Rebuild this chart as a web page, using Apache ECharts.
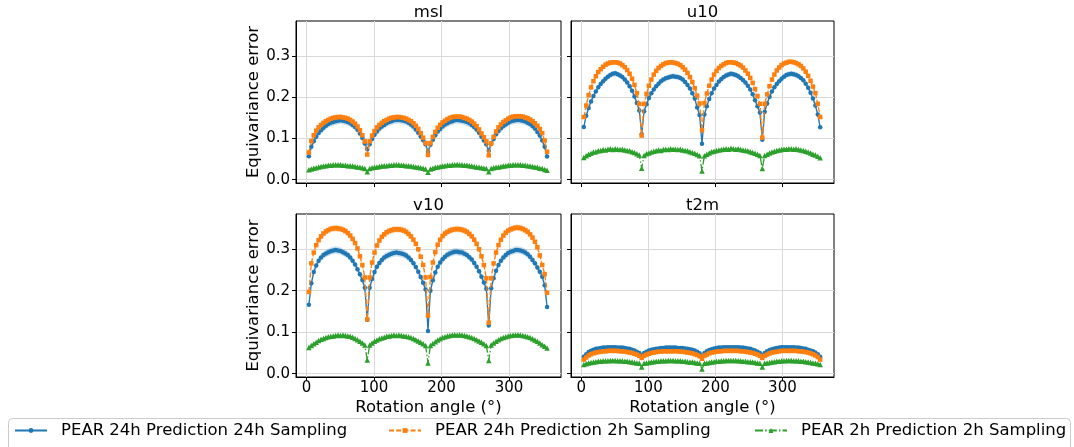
<!DOCTYPE html>
<html>
<head>
<meta charset="utf-8">
<script src="https://cdn.jsdelivr.net/npm/echarts@6/dist/echarts.min.js"></script>
<style>
  html, body { margin: 0; padding: 0; background: #ffffff; }
  #chart { width: 1074px; height: 447px; }
</style>
</head>
<body>
<div id="chart"></div>
<script>
// Rotation angles (degrees) at which the equivariance error was evaluated
const angles = [
  3.6, 7.2, 10.8, 14.4, 18, 21.6, 25.2, 28.8, 32.4, 36, 39.6, 43.2, 46.8, 50.4, 54, 57.6, 61.2, 64.8, 68.4, 72, 75.6, 79.2, 82.8, 86.4, 90,
  93.6, 97.2, 100.8, 104.4, 108, 111.6, 115.2, 118.8, 122.4, 126, 129.6, 133.2, 136.8, 140.4, 144, 147.6, 151.2, 154.8, 158.4, 162, 165.6, 169.2, 172.8, 176.4, 180,
  183.6, 187.2, 190.8, 194.4, 198, 201.6, 205.2, 208.8, 212.4, 216, 219.6, 223.2, 226.8, 230.4, 234, 237.6, 241.2, 244.8, 248.4, 252, 255.6, 259.2, 262.8, 266.4, 270,
  273.6, 277.2, 280.8, 284.4, 288, 291.6, 295.2, 298.8, 302.4, 306, 309.6, 313.2, 316.8, 320.4, 324, 327.6, 331.2, 334.8, 338.4, 342, 345.6, 349.2, 352.8, 356.4
];

const seriesNames = [
  'PEAR 24h Prediction 24h Sampling',
  'PEAR 24h Prediction 2h Sampling',
  'PEAR 2h Prediction 2h Sampling'
];
const panelTitles = ['msl', 'u10', 'v10', 't2m'];
const xTicks = [0, 100, 200, 300];
const yTicks = [0, 0.1, 0.2, 0.3];

// ---- msl ----
const mslP24S24 = [
  0.057, 0.080, 0.093, 0.104, 0.113, 0.120, 0.126, 0.131, 0.135, 0.138, 0.140, 0.142, 0.143, 0.144, 0.143, 0.142, 0.140, 0.137, 0.133, 0.128, 0.121, 0.112, 0.101, 0.088, 0.074,
  0.086, 0.099, 0.109, 0.117, 0.124, 0.129, 0.133, 0.137, 0.140, 0.142, 0.144, 0.145, 0.145, 0.144, 0.143, 0.141, 0.138, 0.134, 0.129, 0.122, 0.114, 0.105, 0.096, 0.086, 0.068,
  0.085, 0.097, 0.108, 0.117, 0.123, 0.129, 0.134, 0.137, 0.140, 0.142, 0.144, 0.145, 0.144, 0.143, 0.142, 0.140, 0.137, 0.133, 0.128, 0.122, 0.114, 0.104, 0.095, 0.086, 0.070,
  0.087, 0.099, 0.110, 0.118, 0.125, 0.130, 0.134, 0.138, 0.141, 0.143, 0.144, 0.145, 0.144, 0.143, 0.141, 0.138, 0.135, 0.130, 0.124, 0.116, 0.107, 0.095, 0.080, 0.056
];
const mslP24S2 = [
  0.066, 0.094, 0.108, 0.119, 0.127, 0.133, 0.138, 0.142, 0.145, 0.148, 0.150, 0.151, 0.152, 0.152, 0.151, 0.150, 0.148, 0.145, 0.141, 0.136, 0.129, 0.120, 0.108, 0.093, 0.061,
  0.093, 0.107, 0.118, 0.127, 0.133, 0.138, 0.142, 0.145, 0.148, 0.150, 0.151, 0.152, 0.152, 0.151, 0.150, 0.148, 0.145, 0.142, 0.137, 0.131, 0.123, 0.113, 0.102, 0.089, 0.060,
  0.089, 0.104, 0.116, 0.126, 0.133, 0.139, 0.143, 0.147, 0.150, 0.152, 0.153, 0.153, 0.153, 0.152, 0.150, 0.148, 0.145, 0.141, 0.136, 0.130, 0.122, 0.112, 0.103, 0.093, 0.059,
  0.088, 0.104, 0.117, 0.127, 0.134, 0.140, 0.144, 0.148, 0.151, 0.153, 0.154, 0.154, 0.154, 0.153, 0.151, 0.149, 0.146, 0.142, 0.137, 0.131, 0.123, 0.113, 0.095, 0.068
];
const mslP2S2 = [
  0.024, 0.026, 0.028, 0.029, 0.031, 0.032, 0.033, 0.034, 0.035, 0.035, 0.036, 0.036, 0.036, 0.036, 0.035, 0.035, 0.034, 0.034, 0.033, 0.032, 0.031, 0.030, 0.029, 0.027, 0.019,
  0.027, 0.029, 0.030, 0.031, 0.032, 0.033, 0.034, 0.034, 0.035, 0.035, 0.036, 0.036, 0.036, 0.035, 0.035, 0.034, 0.034, 0.033, 0.032, 0.031, 0.030, 0.029, 0.028, 0.026, 0.018,
  0.026, 0.028, 0.030, 0.031, 0.032, 0.033, 0.034, 0.035, 0.035, 0.036, 0.036, 0.037, 0.036, 0.036, 0.035, 0.035, 0.034, 0.033, 0.032, 0.031, 0.030, 0.029, 0.028, 0.027, 0.019,
  0.027, 0.029, 0.030, 0.031, 0.032, 0.033, 0.034, 0.035, 0.035, 0.036, 0.036, 0.036, 0.036, 0.035, 0.035, 0.034, 0.033, 0.032, 0.031, 0.030, 0.028, 0.027, 0.025, 0.023
];
const mslSpread = [0.009, 0.006];

// ---- u10 ----
const u10P24S24 = [
  0.128, 0.155, 0.174, 0.190, 0.203, 0.214, 0.224, 0.232, 0.239, 0.245, 0.250, 0.254, 0.257, 0.258, 0.256, 0.253, 0.249, 0.243, 0.236, 0.227, 0.216, 0.202, 0.186, 0.168, 0.110,
  0.166, 0.183, 0.198, 0.210, 0.219, 0.227, 0.233, 0.239, 0.243, 0.246, 0.248, 0.250, 0.251, 0.250, 0.249, 0.247, 0.243, 0.237, 0.230, 0.221, 0.210, 0.197, 0.175, 0.157, 0.087,
  0.158, 0.178, 0.196, 0.210, 0.221, 0.230, 0.238, 0.244, 0.249, 0.253, 0.255, 0.257, 0.256, 0.254, 0.251, 0.247, 0.242, 0.236, 0.228, 0.219, 0.207, 0.193, 0.178, 0.163, 0.097,
  0.165, 0.185, 0.201, 0.214, 0.224, 0.232, 0.239, 0.245, 0.250, 0.254, 0.256, 0.257, 0.256, 0.254, 0.251, 0.247, 0.241, 0.233, 0.223, 0.211, 0.197, 0.180, 0.158, 0.127
];
const u10P24S2 = [
  0.152, 0.180, 0.205, 0.224, 0.239, 0.251, 0.261, 0.268, 0.274, 0.279, 0.282, 0.284, 0.285, 0.285, 0.284, 0.282, 0.278, 0.273, 0.266, 0.257, 0.245, 0.230, 0.210, 0.184, 0.107,
  0.184, 0.208, 0.228, 0.243, 0.255, 0.264, 0.271, 0.276, 0.280, 0.283, 0.284, 0.285, 0.284, 0.283, 0.281, 0.278, 0.273, 0.267, 0.259, 0.249, 0.237, 0.222, 0.204, 0.185, 0.120,
  0.186, 0.209, 0.228, 0.243, 0.255, 0.264, 0.271, 0.276, 0.280, 0.283, 0.285, 0.285, 0.284, 0.283, 0.280, 0.277, 0.272, 0.265, 0.257, 0.247, 0.235, 0.220, 0.203, 0.184, 0.102,
  0.184, 0.207, 0.227, 0.243, 0.255, 0.265, 0.272, 0.278, 0.282, 0.284, 0.286, 0.286, 0.285, 0.283, 0.280, 0.276, 0.270, 0.262, 0.252, 0.240, 0.226, 0.210, 0.184, 0.152
];
const u10P2S2 = [
  0.054, 0.058, 0.062, 0.064, 0.067, 0.068, 0.070, 0.071, 0.073, 0.072, 0.074, 0.075, 0.073, 0.075, 0.074, 0.073, 0.074, 0.072, 0.071, 0.070, 0.068, 0.066, 0.063, 0.060, 0.028,
  0.059, 0.063, 0.065, 0.067, 0.069, 0.070, 0.072, 0.071, 0.073, 0.074, 0.073, 0.075, 0.074, 0.074, 0.073, 0.074, 0.072, 0.071, 0.070, 0.068, 0.066, 0.064, 0.061, 0.058, 0.021,
  0.058, 0.062, 0.065, 0.068, 0.069, 0.071, 0.072, 0.073, 0.074, 0.075, 0.074, 0.076, 0.075, 0.074, 0.075, 0.073, 0.072, 0.071, 0.070, 0.068, 0.066, 0.064, 0.062, 0.059, 0.027,
  0.059, 0.062, 0.065, 0.067, 0.069, 0.071, 0.072, 0.073, 0.074, 0.074, 0.075, 0.075, 0.074, 0.075, 0.073, 0.072, 0.071, 0.069, 0.067, 0.065, 0.062, 0.060, 0.057, 0.053
];
const u10Spread = [0.007, 0.006];

// ---- v10 ----
const v10P24S24 = [
  0.166, 0.218, 0.245, 0.261, 0.272, 0.280, 0.286, 0.290, 0.293, 0.295, 0.297, 0.298, 0.297, 0.296, 0.293, 0.290, 0.286, 0.280, 0.272, 0.263, 0.252, 0.240, 0.226, 0.207, 0.130,
  0.207, 0.228, 0.245, 0.258, 0.267, 0.274, 0.280, 0.284, 0.287, 0.289, 0.291, 0.292, 0.291, 0.290, 0.288, 0.285, 0.280, 0.274, 0.266, 0.257, 0.246, 0.233, 0.219, 0.203, 0.103,
  0.200, 0.225, 0.244, 0.258, 0.268, 0.276, 0.282, 0.287, 0.290, 0.292, 0.294, 0.294, 0.293, 0.292, 0.289, 0.286, 0.281, 0.275, 0.267, 0.258, 0.247, 0.234, 0.220, 0.205, 0.116,
  0.206, 0.230, 0.248, 0.262, 0.272, 0.280, 0.286, 0.291, 0.294, 0.296, 0.298, 0.298, 0.297, 0.295, 0.292, 0.288, 0.282, 0.274, 0.266, 0.256, 0.246, 0.234, 0.213, 0.161
];
const v10P24S2 = [
  0.197, 0.266, 0.292, 0.310, 0.322, 0.331, 0.338, 0.343, 0.346, 0.349, 0.350, 0.351, 0.350, 0.349, 0.347, 0.344, 0.339, 0.333, 0.325, 0.315, 0.302, 0.283, 0.262, 0.232, 0.131,
  0.232, 0.268, 0.292, 0.309, 0.321, 0.330, 0.336, 0.341, 0.344, 0.346, 0.348, 0.348, 0.348, 0.347, 0.345, 0.342, 0.337, 0.331, 0.323, 0.313, 0.300, 0.282, 0.262, 0.232, 0.140,
  0.233, 0.268, 0.293, 0.311, 0.323, 0.332, 0.338, 0.342, 0.345, 0.347, 0.348, 0.349, 0.348, 0.347, 0.345, 0.342, 0.337, 0.331, 0.323, 0.313, 0.300, 0.283, 0.262, 0.230, 0.123,
  0.230, 0.266, 0.292, 0.310, 0.323, 0.333, 0.340, 0.345, 0.348, 0.350, 0.352, 0.352, 0.351, 0.349, 0.346, 0.342, 0.336, 0.328, 0.318, 0.305, 0.285, 0.262, 0.240, 0.195
];
const v10P2S2 = [
  0.063, 0.068, 0.072, 0.076, 0.080, 0.083, 0.085, 0.087, 0.089, 0.090, 0.091, 0.092, 0.093, 0.092, 0.093, 0.092, 0.091, 0.090, 0.088, 0.085, 0.082, 0.078, 0.074, 0.069, 0.033,
  0.069, 0.074, 0.078, 0.081, 0.084, 0.086, 0.088, 0.090, 0.091, 0.092, 0.093, 0.092, 0.093, 0.092, 0.091, 0.090, 0.089, 0.087, 0.085, 0.082, 0.079, 0.076, 0.072, 0.068, 0.026,
  0.068, 0.073, 0.077, 0.081, 0.084, 0.087, 0.089, 0.091, 0.092, 0.093, 0.094, 0.093, 0.094, 0.093, 0.092, 0.091, 0.089, 0.087, 0.085, 0.082, 0.079, 0.076, 0.072, 0.068, 0.032,
  0.069, 0.074, 0.078, 0.082, 0.085, 0.087, 0.089, 0.091, 0.092, 0.093, 0.093, 0.094, 0.093, 0.092, 0.091, 0.089, 0.087, 0.084, 0.081, 0.078, 0.074, 0.070, 0.066, 0.062
];
const v10Spread = [0.009, 0.008];

// ---- t2m ----
const t2mP24S24 = [
  0.041, 0.047, 0.052, 0.055, 0.058, 0.060, 0.061, 0.062, 0.063, 0.063, 0.064, 0.064, 0.064, 0.064, 0.063, 0.063, 0.063, 0.062, 0.061, 0.060, 0.058, 0.056, 0.053, 0.050, 0.045,
  0.050, 0.053, 0.056, 0.058, 0.059, 0.060, 0.061, 0.062, 0.062, 0.063, 0.063, 0.063, 0.063, 0.063, 0.062, 0.062, 0.062, 0.061, 0.060, 0.059, 0.058, 0.056, 0.053, 0.049, 0.042,
  0.050, 0.054, 0.057, 0.059, 0.061, 0.062, 0.063, 0.063, 0.064, 0.064, 0.064, 0.064, 0.064, 0.064, 0.064, 0.063, 0.063, 0.062, 0.061, 0.060, 0.058, 0.056, 0.053, 0.050, 0.045,
  0.050, 0.054, 0.057, 0.059, 0.061, 0.062, 0.063, 0.064, 0.064, 0.064, 0.064, 0.064, 0.064, 0.063, 0.063, 0.062, 0.061, 0.060, 0.058, 0.056, 0.054, 0.051, 0.047, 0.041
];
const t2mP24S2 = [
  0.034, 0.039, 0.044, 0.047, 0.049, 0.051, 0.052, 0.053, 0.054, 0.054, 0.055, 0.055, 0.055, 0.055, 0.055, 0.054, 0.054, 0.053, 0.052, 0.051, 0.050, 0.048, 0.046, 0.043, 0.038,
  0.043, 0.046, 0.048, 0.050, 0.051, 0.052, 0.053, 0.053, 0.054, 0.054, 0.054, 0.054, 0.054, 0.054, 0.054, 0.053, 0.053, 0.052, 0.051, 0.050, 0.049, 0.047, 0.045, 0.042, 0.036,
  0.043, 0.046, 0.049, 0.051, 0.052, 0.053, 0.054, 0.054, 0.055, 0.055, 0.055, 0.055, 0.055, 0.055, 0.055, 0.054, 0.054, 0.053, 0.052, 0.051, 0.050, 0.048, 0.046, 0.043, 0.038,
  0.043, 0.046, 0.049, 0.051, 0.052, 0.053, 0.054, 0.055, 0.055, 0.055, 0.055, 0.055, 0.055, 0.055, 0.054, 0.054, 0.053, 0.052, 0.051, 0.049, 0.047, 0.044, 0.040, 0.034
];
const t2mP2S2 = [
  0.022, 0.024, 0.026, 0.027, 0.028, 0.029, 0.030, 0.030, 0.031, 0.031, 0.031, 0.032, 0.032, 0.032, 0.031, 0.031, 0.031, 0.030, 0.030, 0.029, 0.028, 0.027, 0.026, 0.025, 0.016,
  0.025, 0.026, 0.027, 0.028, 0.029, 0.030, 0.030, 0.031, 0.031, 0.031, 0.032, 0.032, 0.032, 0.031, 0.031, 0.031, 0.030, 0.030, 0.029, 0.028, 0.028, 0.027, 0.026, 0.025, 0.011,
  0.025, 0.026, 0.027, 0.028, 0.029, 0.030, 0.030, 0.031, 0.031, 0.032, 0.032, 0.032, 0.032, 0.032, 0.031, 0.031, 0.030, 0.030, 0.029, 0.029, 0.028, 0.027, 0.026, 0.025, 0.016,
  0.025, 0.026, 0.027, 0.028, 0.029, 0.030, 0.030, 0.031, 0.031, 0.032, 0.032, 0.032, 0.031, 0.031, 0.031, 0.030, 0.030, 0.029, 0.028, 0.027, 0.026, 0.025, 0.024, 0.022
];
const t2mSpread = [0.003, 0.003];

const panelValues = [
  [mslP24S24, mslP24S2, mslP2S2],
  [u10P24S24, u10P24S2, u10P2S2],
  [v10P24S24, v10P24S2, v10P2S2],
  [t2mP24S24, t2mP24S2, t2mP2S2]
];
const panelSpreads = [mslSpread, u10Spread, v10Spread, t2mSpread];

// ---- styling ----
const FONT = '"DejaVu Sans", sans-serif';
const colors = ['#1f77b4', '#ff7f0e', '#2ca02c'];
const bandColors = ['rgba(31,119,180,0.22)', 'rgba(255,127,14,0.22)'];
const symbols = ['circle', 'rect', 'triangle'];
const symbolSizes = [4.5, 4.5, 5.5];
const dashes = ['solid', [5, 2.2], [8, 2.2, 1.4, 2.2]];

const grids = [
  { left: 296, top: 21, width: 265, height: 162 },
  { left: 571, top: 21, width: 263, height: 162 },
  { left: 296, top: 214, width: 265, height: 163 },
  { left: 571, top: 214, width: 263, height: 163 }
];

const gridLineStyle = { color: '#d9d9d9', width: 1 };

const xAxes = grids.map((g, i) => ({
  type: 'value', gridIndex: i, min: -15.5, max: 377,
  axisLine: { show: true, onZero: false, lineStyle: { color: '#000', width: 1 } },
  axisTick: { show: true, inside: false, length: 4, customValues: xTicks, lineStyle: { color: '#000', width: 1 } },
  axisLabel: { show: i >= 2, customValues: xTicks, margin: 4, fontSize: 15, fontFamily: FONT, color: '#000' },
  splitLine: { show: true, lineStyle: gridLineStyle },
  name: i >= 2 ? 'Rotation angle (°)' : '',
  nameLocation: 'middle', nameGap: 22,
  nameTextStyle: { fontSize: 16.5, fontFamily: FONT, color: '#000', verticalAlign: 'top' }
}));

const yAxes = grids.map((g, i) => ({
  type: 'value', gridIndex: i, min: -0.008, max: 0.385,
  axisLine: { show: true, onZero: false, lineStyle: { color: '#000', width: 1 } },
  axisTick: { show: true, inside: false, length: 4, customValues: yTicks, lineStyle: { color: '#000', width: 1 } },
  axisLabel: {
    show: i % 2 === 0, customValues: yTicks, margin: 6, fontSize: 15, fontFamily: FONT, color: '#000',
    formatter: v => v.toFixed(1)
  },
  splitLine: { show: true, lineStyle: gridLineStyle },
  name: i % 2 === 0 ? 'Equivariance error' : '',
  nameLocation: 'middle', nameGap: 31, nameRotate: 90,
  nameTextStyle: { fontSize: 16.5, fontFamily: FONT, color: '#000' }
}));

// Spread band drawn as one closed polygon through the axis scales
function bandRenderer(lower, upper, fill) {
  return function (params, api) {
    if (params.dataIndex !== 0) return null;
    const pts = [];
    for (let k = 0; k < angles.length; k++) pts.push(api.coord([angles[k], upper[k]]));
    for (let k = angles.length - 1; k >= 0; k--) pts.push(api.coord([angles[k], lower[k]]));
    return {
      type: 'polygon',
      shape: { points: pts },
      style: { fill: fill, stroke: null },
      silent: true
    };
  };
}

const series = [];
panelValues.forEach((vals, gi) => {
  panelSpreads[gi].forEach((s, si) => {
    const ys = vals[si];
    const lower = ys.map(v => v - s);
    const upper = ys.map(v => v + s);
    series.push({
      type: 'custom', xAxisIndex: gi, yAxisIndex: gi, silent: true, z: 1,
      data: angles.map((a, k) => [a, lower[k], upper[k]]),
      encode: { x: 0, y: [1, 2] },
      renderItem: bandRenderer(lower, upper, bandColors[si]),
      clip: true
    });
  });
  vals.forEach((ys, si) => {
    series.push({
      type: 'line', name: seriesNames[si], xAxisIndex: gi, yAxisIndex: gi,
      data: angles.map((a, k) => [a, ys[k]]),
      symbol: symbols[si], symbolSize: symbolSizes[si], showSymbol: true,
      itemStyle: { color: colors[si] },
      lineStyle: { color: colors[si], width: 1.3, type: dashes[si] },
      emphasis: { disabled: true }, z: 2 + si
    });
  });
});

const legendLefts = [14, 388, 754];
const legends = seriesNames.map((n, i) => ({
  data: [n], left: legendLefts[i], top: 422, orient: 'horizontal',
  itemWidth: 32, itemHeight: 6, padding: 0, selectedMode: false,
  textStyle: { fontSize: 16.5, fontFamily: FONT, color: '#000', padding: [0, 0, 0, 9] }
}));

const titleCenters = [
  [428.5, 13], [702.5, 13], [428.5, 206], [702.5, 206]
];
const graphics = [
  {
    type: 'rect', left: 8, top: 418, z: 0,
    shape: { width: 1062, height: 40, r: 4 },
    style: { fill: 'rgba(255,255,255,0.8)', stroke: '#cccccc', lineWidth: 1 }
  }
].concat(panelTitles.map((t, i) => ({
  type: 'text', x: titleCenters[i][0], y: titleCenters[i][1], z: 10,
  style: {
    text: t, fill: '#000', font: '16.5px ' + FONT,
    align: 'center', verticalAlign: 'middle', textAlign: 'center', textVerticalAlign: 'middle'
  }
})));

const chart = echarts.init(document.getElementById('chart'), null, { renderer: 'canvas' });
chart.setOption({
  animation: false,
  backgroundColor: '#ffffff',
  grid: grids.map(g => Object.assign({ show: true, borderColor: '#000', borderWidth: 1, backgroundColor: 'transparent' }, g)),
  xAxis: xAxes,
  yAxis: yAxes,
  legend: legends,
  graphic: graphics,
  series: series
});
</script>
</body>
</html>
